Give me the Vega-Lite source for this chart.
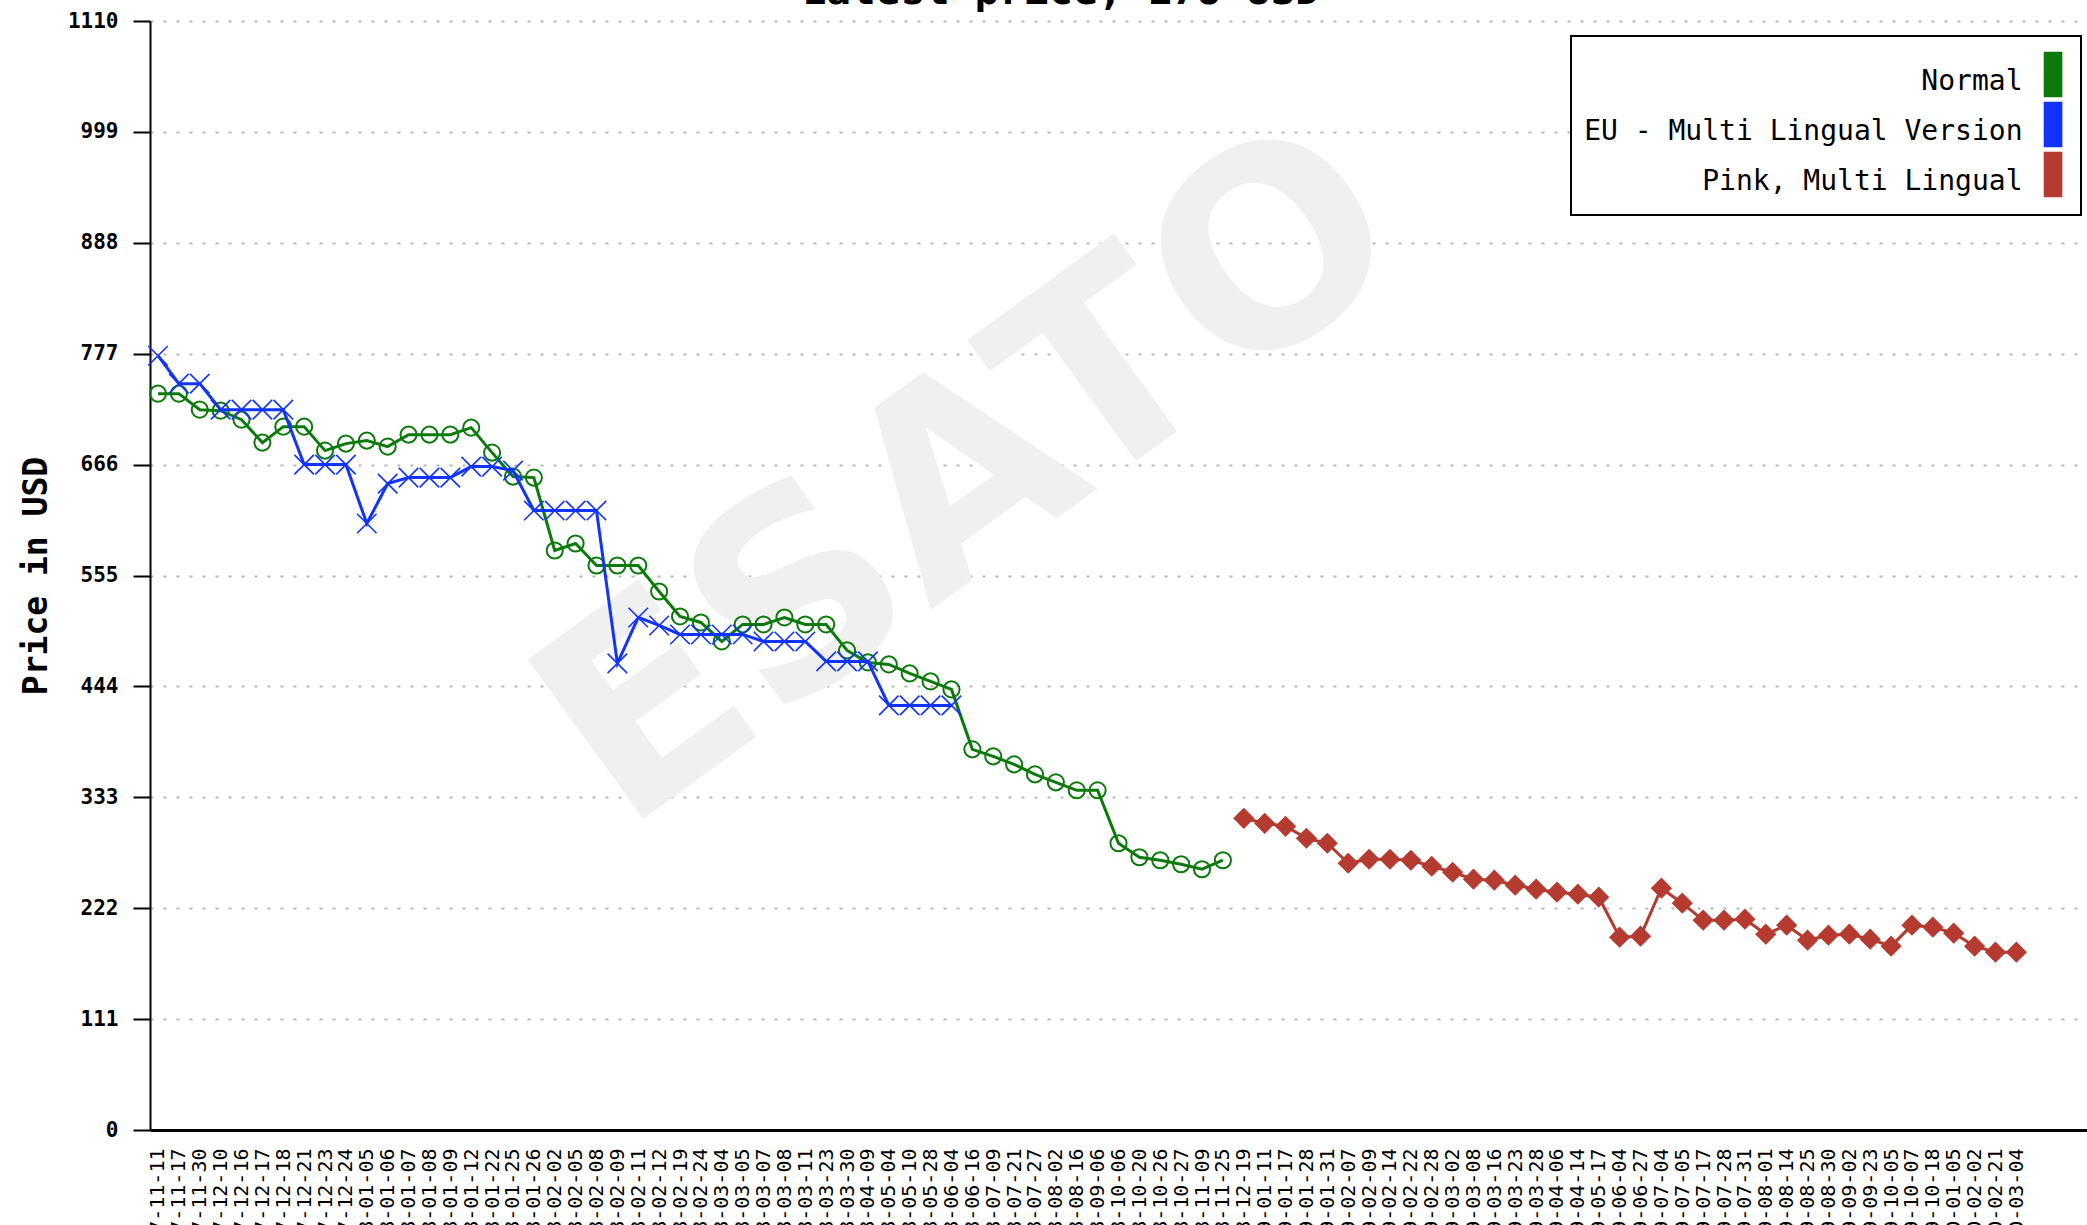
{
  "$schema": "https://vega.github.io/schema/vega-lite/v6.json",
  "width": 1937,
  "height": 1109,
  "autosize": {"type": "none"},
  "padding": {"left": 150, "top": 21, "right": 0, "bottom": 95},
  "background": "white",
  "config": {
    "view": {"stroke": null},
    "font": "DejaVu Sans Mono"
  },
  "datasets": {
    "prices": [
      {"date":"2007-11-11","series":"Normal","price":737},
      {"date":"2007-11-17","series":"Normal","price":737},
      {"date":"2007-11-30","series":"Normal","price":721},
      {"date":"2007-12-10","series":"Normal","price":720},
      {"date":"2007-12-16","series":"Normal","price":711},
      {"date":"2007-12-17","series":"Normal","price":688},
      {"date":"2007-12-18","series":"Normal","price":704},
      {"date":"2007-12-21","series":"Normal","price":704},
      {"date":"2007-12-23","series":"Normal","price":680},
      {"date":"2007-12-24","series":"Normal","price":687},
      {"date":"2008-01-05","series":"Normal","price":690},
      {"date":"2008-01-06","series":"Normal","price":684},
      {"date":"2008-01-07","series":"Normal","price":696},
      {"date":"2008-01-08","series":"Normal","price":696},
      {"date":"2008-01-09","series":"Normal","price":696},
      {"date":"2008-01-12","series":"Normal","price":703},
      {"date":"2008-01-22","series":"Normal","price":678},
      {"date":"2008-01-25","series":"Normal","price":654},
      {"date":"2008-01-26","series":"Normal","price":653},
      {"date":"2008-02-02","series":"Normal","price":580},
      {"date":"2008-02-05","series":"Normal","price":587},
      {"date":"2008-02-08","series":"Normal","price":565},
      {"date":"2008-02-09","series":"Normal","price":565},
      {"date":"2008-02-11","series":"Normal","price":565},
      {"date":"2008-02-12","series":"Normal","price":539},
      {"date":"2008-02-19","series":"Normal","price":514},
      {"date":"2008-02-24","series":"Normal","price":508},
      {"date":"2008-03-04","series":"Normal","price":489},
      {"date":"2008-03-05","series":"Normal","price":506},
      {"date":"2008-03-07","series":"Normal","price":506},
      {"date":"2008-03-08","series":"Normal","price":513},
      {"date":"2008-03-11","series":"Normal","price":506},
      {"date":"2008-03-23","series":"Normal","price":506},
      {"date":"2008-03-30","series":"Normal","price":480},
      {"date":"2008-04-09","series":"Normal","price":468},
      {"date":"2008-05-04","series":"Normal","price":466},
      {"date":"2008-05-10","series":"Normal","price":457},
      {"date":"2008-05-28","series":"Normal","price":449},
      {"date":"2008-06-04","series":"Normal","price":441},
      {"date":"2008-06-16","series":"Normal","price":381},
      {"date":"2008-07-09","series":"Normal","price":374},
      {"date":"2008-07-21","series":"Normal","price":366},
      {"date":"2008-07-27","series":"Normal","price":356},
      {"date":"2008-08-02","series":"Normal","price":348},
      {"date":"2008-08-16","series":"Normal","price":340},
      {"date":"2008-09-06","series":"Normal","price":340},
      {"date":"2008-10-06","series":"Normal","price":287},
      {"date":"2008-10-20","series":"Normal","price":273},
      {"date":"2008-10-26","series":"Normal","price":270},
      {"date":"2008-10-27","series":"Normal","price":266},
      {"date":"2008-11-09","series":"Normal","price":261},
      {"date":"2008-11-25","series":"Normal","price":270},
      {"date":"2007-11-11","series":"EU - Multi Lingual Version","price":775},
      {"date":"2007-11-17","series":"EU - Multi Lingual Version","price":747},
      {"date":"2007-11-30","series":"EU - Multi Lingual Version","price":747},
      {"date":"2007-12-10","series":"EU - Multi Lingual Version","price":721},
      {"date":"2007-12-16","series":"EU - Multi Lingual Version","price":721},
      {"date":"2007-12-17","series":"EU - Multi Lingual Version","price":721},
      {"date":"2007-12-18","series":"EU - Multi Lingual Version","price":721},
      {"date":"2007-12-21","series":"EU - Multi Lingual Version","price":666},
      {"date":"2007-12-23","series":"EU - Multi Lingual Version","price":666},
      {"date":"2007-12-24","series":"EU - Multi Lingual Version","price":666},
      {"date":"2008-01-05","series":"EU - Multi Lingual Version","price":607},
      {"date":"2008-01-06","series":"EU - Multi Lingual Version","price":647},
      {"date":"2008-01-07","series":"EU - Multi Lingual Version","price":653},
      {"date":"2008-01-08","series":"EU - Multi Lingual Version","price":653},
      {"date":"2008-01-09","series":"EU - Multi Lingual Version","price":653},
      {"date":"2008-01-12","series":"EU - Multi Lingual Version","price":664},
      {"date":"2008-01-22","series":"EU - Multi Lingual Version","price":664},
      {"date":"2008-01-25","series":"EU - Multi Lingual Version","price":660},
      {"date":"2008-01-26","series":"EU - Multi Lingual Version","price":620},
      {"date":"2008-02-02","series":"EU - Multi Lingual Version","price":620},
      {"date":"2008-02-05","series":"EU - Multi Lingual Version","price":620},
      {"date":"2008-02-08","series":"EU - Multi Lingual Version","price":620},
      {"date":"2008-02-09","series":"EU - Multi Lingual Version","price":467},
      {"date":"2008-02-11","series":"EU - Multi Lingual Version","price":513},
      {"date":"2008-02-12","series":"EU - Multi Lingual Version","price":505},
      {"date":"2008-02-19","series":"EU - Multi Lingual Version","price":496},
      {"date":"2008-02-24","series":"EU - Multi Lingual Version","price":496},
      {"date":"2008-03-04","series":"EU - Multi Lingual Version","price":496},
      {"date":"2008-03-05","series":"EU - Multi Lingual Version","price":496},
      {"date":"2008-03-07","series":"EU - Multi Lingual Version","price":489},
      {"date":"2008-03-08","series":"EU - Multi Lingual Version","price":489},
      {"date":"2008-03-11","series":"EU - Multi Lingual Version","price":489},
      {"date":"2008-03-23","series":"EU - Multi Lingual Version","price":469},
      {"date":"2008-03-30","series":"EU - Multi Lingual Version","price":469},
      {"date":"2008-04-09","series":"EU - Multi Lingual Version","price":469},
      {"date":"2008-05-04","series":"EU - Multi Lingual Version","price":425},
      {"date":"2008-05-10","series":"EU - Multi Lingual Version","price":425},
      {"date":"2008-05-28","series":"EU - Multi Lingual Version","price":425},
      {"date":"2008-06-04","series":"EU - Multi Lingual Version","price":425},
      {"date":"2008-12-19","series":"Pink, Multi Lingual","price":312},
      {"date":"2009-01-11","series":"Pink, Multi Lingual","price":307},
      {"date":"2009-01-17","series":"Pink, Multi Lingual","price":304},
      {"date":"2009-01-28","series":"Pink, Multi Lingual","price":292},
      {"date":"2009-01-31","series":"Pink, Multi Lingual","price":287},
      {"date":"2009-02-07","series":"Pink, Multi Lingual","price":267},
      {"date":"2009-02-09","series":"Pink, Multi Lingual","price":271},
      {"date":"2009-02-14","series":"Pink, Multi Lingual","price":271},
      {"date":"2009-02-22","series":"Pink, Multi Lingual","price":270},
      {"date":"2009-02-28","series":"Pink, Multi Lingual","price":264},
      {"date":"2009-03-02","series":"Pink, Multi Lingual","price":258},
      {"date":"2009-03-08","series":"Pink, Multi Lingual","price":251},
      {"date":"2009-03-16","series":"Pink, Multi Lingual","price":250},
      {"date":"2009-03-23","series":"Pink, Multi Lingual","price":245},
      {"date":"2009-03-28","series":"Pink, Multi Lingual","price":241},
      {"date":"2009-04-06","series":"Pink, Multi Lingual","price":238},
      {"date":"2009-04-14","series":"Pink, Multi Lingual","price":236},
      {"date":"2009-05-17","series":"Pink, Multi Lingual","price":233},
      {"date":"2009-06-04","series":"Pink, Multi Lingual","price":193},
      {"date":"2009-06-27","series":"Pink, Multi Lingual","price":194},
      {"date":"2009-07-04","series":"Pink, Multi Lingual","price":242},
      {"date":"2009-07-05","series":"Pink, Multi Lingual","price":227},
      {"date":"2009-07-17","series":"Pink, Multi Lingual","price":210},
      {"date":"2009-07-28","series":"Pink, Multi Lingual","price":210},
      {"date":"2009-07-31","series":"Pink, Multi Lingual","price":211},
      {"date":"2009-08-01","series":"Pink, Multi Lingual","price":196},
      {"date":"2009-08-14","series":"Pink, Multi Lingual","price":205},
      {"date":"2009-08-25","series":"Pink, Multi Lingual","price":190},
      {"date":"2009-08-30","series":"Pink, Multi Lingual","price":195},
      {"date":"2009-09-02","series":"Pink, Multi Lingual","price":196},
      {"date":"2009-09-23","series":"Pink, Multi Lingual","price":191},
      {"date":"2009-10-05","series":"Pink, Multi Lingual","price":184},
      {"date":"2009-10-07","series":"Pink, Multi Lingual","price":205},
      {"date":"2009-10-18","series":"Pink, Multi Lingual","price":203},
      {"date":"2010-01-05","series":"Pink, Multi Lingual","price":197},
      {"date":"2010-02-02","series":"Pink, Multi Lingual","price":184},
      {"date":"2010-02-21","series":"Pink, Multi Lingual","price":178},
      {"date":"2010-03-04","series":"Pink, Multi Lingual","price":178}
    ]
  },
  "data": {"name": "prices"},
  "encoding": {
    "x": {
      "field": "date",
      "type": "ordinal",
      "scale": {
        "type": "point",
        "padding": 0.383,
        "domain": ["2007-11-11","2007-11-17","2007-11-30","2007-12-10","2007-12-16","2007-12-17","2007-12-18","2007-12-21","2007-12-23","2007-12-24","2008-01-05","2008-01-06","2008-01-07","2008-01-08","2008-01-09","2008-01-12","2008-01-22","2008-01-25","2008-01-26","2008-02-02","2008-02-05","2008-02-08","2008-02-09","2008-02-11","2008-02-12","2008-02-19","2008-02-24","2008-03-04","2008-03-05","2008-03-07","2008-03-08","2008-03-11","2008-03-23","2008-03-30","2008-04-09","2008-05-04","2008-05-10","2008-05-28","2008-06-04","2008-06-16","2008-07-09","2008-07-21","2008-07-27","2008-08-02","2008-08-16","2008-09-06","2008-10-06","2008-10-20","2008-10-26","2008-10-27","2008-11-09","2008-11-25","2008-12-19","2009-01-11","2009-01-17","2009-01-28","2009-01-31","2009-02-07","2009-02-09","2009-02-14","2009-02-22","2009-02-28","2009-03-02","2009-03-08","2009-03-16","2009-03-23","2009-03-28","2009-04-06","2009-04-14","2009-05-17","2009-06-04","2009-06-27","2009-07-04","2009-07-05","2009-07-17","2009-07-28","2009-07-31","2009-08-01","2009-08-14","2009-08-25","2009-08-30","2009-09-02","2009-09-23","2009-10-05","2009-10-07","2009-10-18","2010-01-05","2010-02-02","2010-02-21","2010-03-04"," ","  ","   "]
      },
      "axis": {
        "title": null,
        "labelAngle": -90,
        "labelFont": "DejaVu Sans Mono",
        "labelFontSize": 20,
        "labelColor": "black",
        "labelPadding": 18,
        "labelOverlap": false,
        "ticks": false,
        "grid": false,
        "domainColor": "black",
        "domainWidth": 3
      }
    },
    "y": {
      "field": "price",
      "type": "quantitative",
      "scale": {"domain": [0, 1110], "nice": false},
      "axis": {
        "title": "Price in USD",
        "titleFont": "DejaVu Sans Mono",
        "titleFontSize": 33,
        "titleFontWeight": "bold",
        "titleColor": "black",
        "titlePadding": 14,
        "values": [0, 111, 222, 333, 444, 555, 666, 777, 888, 999, 1110],
        "format": "d",
        "labelFont": "DejaVu Sans Mono",
        "labelFontWeight": "bold",
        "labelFontSize": 21,
        "labelColor": "black",
        "labelPadding": 15,
        "tickSize": 17,
        "tickWidth": 2,
        "tickColor": "black",
        "domainColor": "black",
        "domainWidth": 2,
        "grid": true,
        "gridColor": "#b8b8b8",
        "gridDash": [3, 10],
        "gridWidth": 2
      }
    }
  },
  "layer": [
    {
      "transform": [
        {"filter": {"field": "series", "equal": "Normal"}},
        {"filter": {"field": "date", "equal": "2008-06-16"}}
      ],
      "mark": {"type": "text", "angle": -36, "font": "DejaVu Sans", "fontSize": 270, "fontWeight": "bold", "color": "#f0f0f0"},
      "encoding": {
        "y": {"datum": 651, "type": "quantitative"},
        "text": {"value": "ESATO"}
      }
    },
    {
      "transform": [
        {"filter": {"field": "series", "equal": "Normal"}},
        {"filter": {"field": "date", "equal": "2008-08-02"}}
      ],
      "mark": {"type": "text", "font": "DejaVu Sans Mono", "fontSize": 41, "fontWeight": "bold", "color": "black", "align": "center", "baseline": "alphabetic", "dx": 5},
      "encoding": {
        "y": {"datum": 1127, "type": "quantitative"},
        "text": {"value": "Latest price, 178 USD"}
      }
    },
    {
      "transform": [{"filter": {"field": "series", "equal": "Normal"}}],
      "mark": {"type": "line", "strokeWidth": 3},
      "encoding": {
        "color": {
          "field": "series",
          "type": "nominal",
          "scale": {"domain": ["Normal", "EU - Multi Lingual Version", "Pink, Multi Lingual"], "range": ["#0b7a0b", "#1133ff", "#b53a30"]},
          "legend": {
            "title": null,
            "orient": "none",
            "legendX": 1421,
            "legendY": 15,
            "padding": 15.5,
            "rowPadding": 0,
            "labelFont": "DejaVu Sans Mono",
            "labelFontSize": 28,
            "labelColor": "black",
            "labelAlign": "right",
            "labelOffset": 390,
            "labelLimit": 800,
            "symbolType": "M 19.77 -1 L 20.55 -1 L 20.55 1 L 19.77 1 Z",
            "symbolSize": 1936,
            "symbolStrokeWidth": 1.5,
            "symbolStrokeColor": "black",
            "fillColor": "white",
            "strokeColor": "black",
            "encode": {
              "symbols": {"update": {"fill": {"scale": "color", "field": "value"}, "stroke": {"value": "black"}, "opacity": {"value": 1}, "fillOpacity": {"value": 1}, "strokeWidth": {"value": 1.5}}},
              "labels": {"update": {"dy": {"value": 7}}},
              "legend": {"update": {"strokeWidth": {"value": 2}}}
            }
          }
        }
      }
    },
    {
      "transform": [{"filter": {"field": "series", "equal": "Normal"}}],
      "mark": {"type": "point", "shape": "circle", "filled": false, "size": 260, "strokeWidth": 2, "opacity": 1},
      "encoding": {"color": {"field": "series", "type": "nominal"}}
    },
    {
      "transform": [{"filter": {"field": "series", "equal": "EU - Multi Lingual Version"}}],
      "mark": {"type": "line", "strokeWidth": 3},
      "encoding": {"color": {"field": "series", "type": "nominal"}}
    },
    {
      "transform": [{"filter": {"field": "series", "equal": "EU - Multi Lingual Version"}}],
      "mark": {"type": "point", "shape": "M-1,-1L1,1M-1,1L1,-1", "filled": false, "size": 380, "strokeWidth": 1.6, "opacity": 1},
      "encoding": {"color": {"field": "series", "type": "nominal"}}
    },
    {
      "transform": [{"filter": {"field": "series", "equal": "Pink, Multi Lingual"}}],
      "mark": {"type": "line", "strokeWidth": 3},
      "encoding": {"color": {"field": "series", "type": "nominal"}}
    },
    {
      "transform": [{"filter": {"field": "series", "equal": "Pink, Multi Lingual"}}],
      "mark": {"type": "point", "shape": "diamond", "filled": true, "size": 450, "opacity": 1},
      "encoding": {"color": {"field": "series", "type": "nominal"}}
    }
  ]
}
